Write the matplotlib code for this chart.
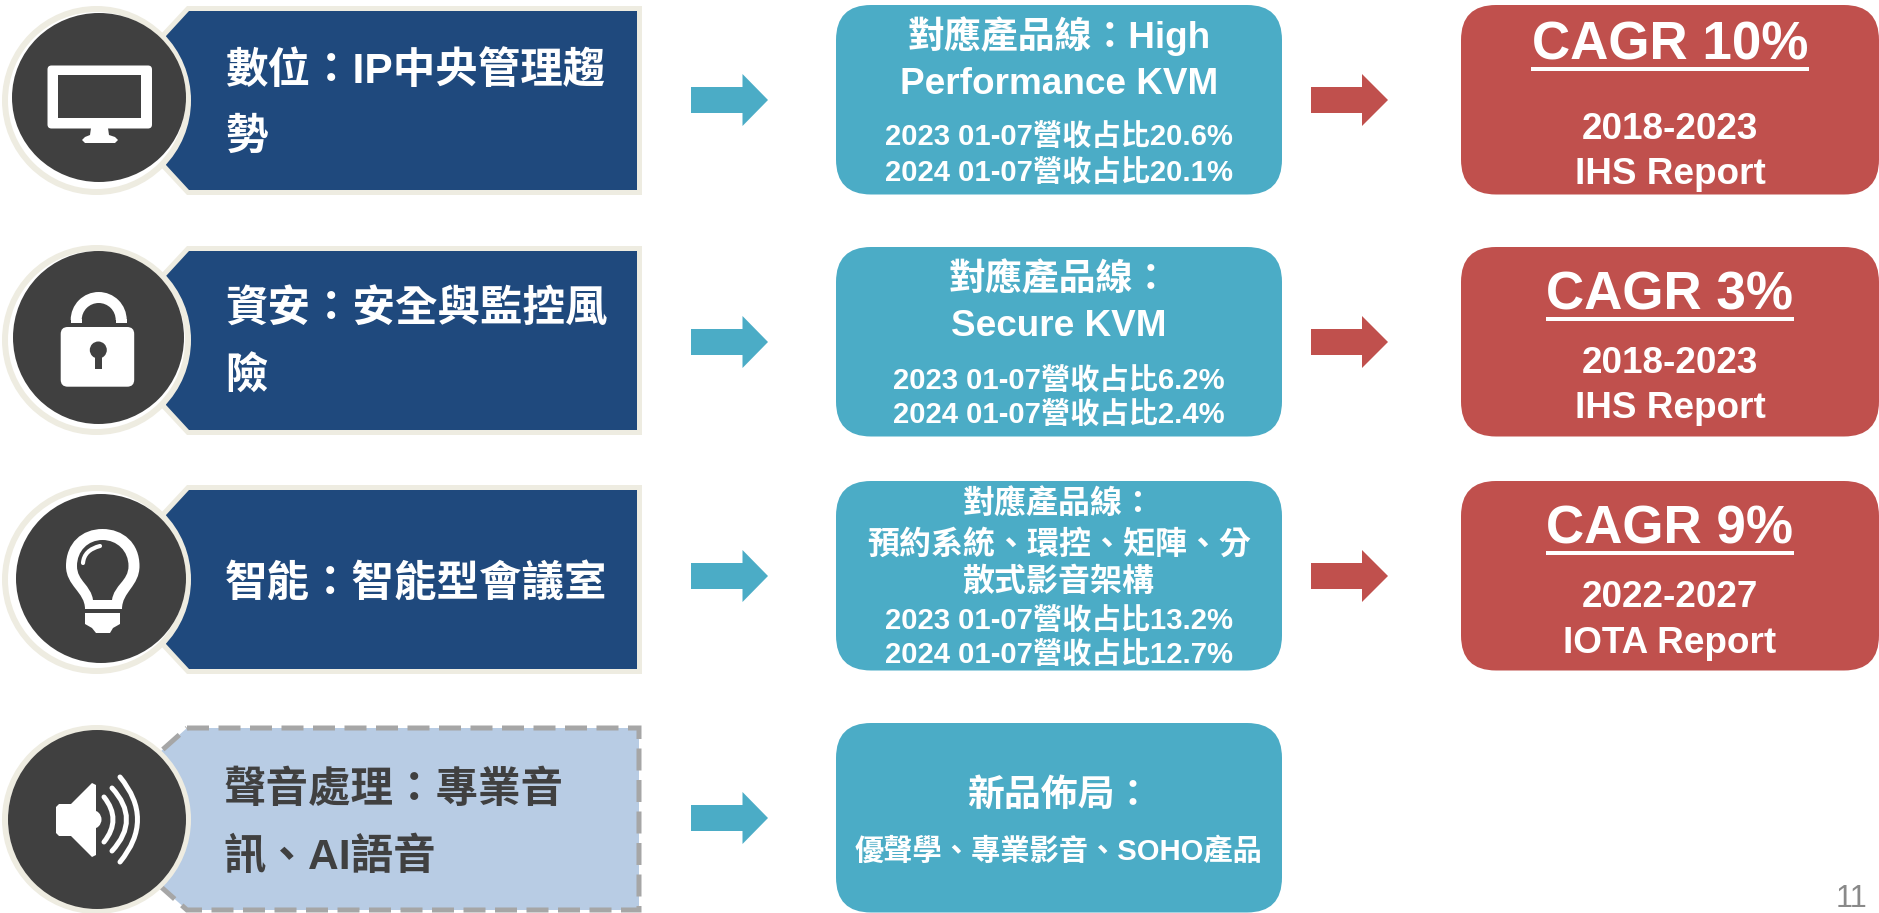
import matplotlib
matplotlib.use('Agg')
import matplotlib.pyplot as plt
from matplotlib.patches import Ellipse, FancyBboxPatch, Polygon, Rectangle, PathPatch, Wedge, Circle
from matplotlib.path import Path

# texts (\uff1a is the full width colon)
topics = [
    ['數位\uff1aIP中央管理趨', '勢'],
    ['資安\uff1a安全與監控風', '險'],
    ['智能\uff1a智能型會議室'],
    ['聲音處理\uff1a專業音', '訊、AI語音'],
]
product_lines = [
    ['對應產品線\uff1aHigh', 'Performance KVM'],
    ['對應產品線\uff1a', 'Secure KVM'],
    ['對應產品線\uff1a', '預約系統、環控、矩陣、分', '散式影音架構'],
    ['新品佈局\uff1a'],
]
share_lines = [
    ['2023 01-07營收占比20.6%', '2024 01-07營收占比20.1%'],
    ['2023 01-07營收占比6.2%', '2024 01-07營收占比2.4%'],
    ['2023 01-07營收占比13.2%', '2024 01-07營收占比12.7%'],
    ['優聲學、專業影音、SOHO產品'],
]
cagr_titles = ['CAGR 10%', 'CAGR 3%', 'CAGR 9%']
cagr_periods = ['2018-2023', '2018-2023', '2022-2027']
cagr_sources = ['IHS Report', 'IHS Report', 'IOTA Report']
page_number = '11'

# layout, in pixels of the slide
W, H = 1879, 913
row_top = [11, 251, 490, 732]
box_top = [5, 247, 481, 723]
arrow_mid = [100, 342, 576, 818]
topic_base = [[83, 149], [322, 389], [596], [802, 869]]
product_base = [[48, 94], [290, 336], [514, 554, 591], [806]]
product_size = [26.6, 26.6, 23, 26.6]
share_base = [[145, 181], [389, 423], [629, 663], [860]]
cagr_base = [60, 309, 544]
rule_y = [69, 319, 553]
period_base = [139, 373, 607]
source_base = [184, 418, 653]
dark_x = [(12, 186), (13, 184), (16, 186), (8, 186)]
dark_y = [(13, 182), (251, 424), (494, 663), (730, 909)]
ring_y = [(6, 195), (245, 435), (485, 674), (725, 914)]

NAVY = '#1F497D'
TEAL = '#4BACC6'
RED = '#C0504D'
CREAM = '#EEECE1'
DARK = '#404040'
LIGHT = '#B8CCE4'
FONT = ['Liberation Sans', 'Noto Sans CJK TC']

fig = plt.figure(figsize=(W / 100, H / 100), dpi=100)
ax = fig.add_axes([0, 0, 1, 1])
ax.set_xlim(0, W)
ax.set_ylim(H, 0)
ax.axis('off')


def label(x, y, s, size, color='white', ha='center', weight='bold'):
    ax.text(x, y, s, fontsize=size, color=color, ha=ha, va='baseline', family=FONT, weight=weight)


def tag_points(top, left, tl, right, height, cut):
    return [(tl, top), (right, top), (right, top + height), (tl, top + height),
            (left, top + height - cut), (left, top + cut)]


def block_arrow(mid, x0, x1, x2, color):
    ax.add_patch(Polygon([(x0, mid - 13), (x1, mid - 13), (x1, mid - 26), (x2, mid),
                          (x1, mid + 26), (x1, mid + 13), (x0, mid + 13)], fc=color, ec='none'))


def round_box(x0, x1, y0, color):
    ax.add_patch(FancyBboxPatch((x0, y0), x1 - x0, 189.5, boxstyle='round,pad=0,rounding_size=35',
                                fc=color, ec='none'))


def white_shape(verts, codes):
    ax.add_patch(PathPatch(Path(verts, codes), fc='white', ec='none', zorder=5))


def curved_line(p0, c, p1, lw):
    ax.add_patch(PathPatch(Path([p0, c, p1], [Path.MOVETO, Path.CURVE3, Path.CURVE3]), fc='none', ec='white',
                           lw=lw * 0.72, capstyle='round', zorder=5))


def monitor():
    ax.add_patch(FancyBboxPatch((47.5, 65.5), 104.5, 63, boxstyle='round,pad=0,rounding_size=4', fc='white', ec='none', zorder=5))
    ax.add_patch(Rectangle((58, 75), 83, 43, fc=DARK, ec='none', zorder=6))
    ax.add_patch(Polygon([(91, 128), (108, 128), (109, 135), (115, 137), (118, 140), (115, 143), (85, 143), (82, 140), (85, 137), (90, 135)],
                         fc='white', ec='none', zorder=5))


def lock():
    ax.add_patch(Wedge((98.7, 320), 28, 180, 360, width=11, fc='white', ec='none', zorder=5))
    ax.add_patch(Rectangle((70.7, 319.5), 11, 3.5, fc='white', ec='none', zorder=5))
    ax.add_patch(Rectangle((115.7, 319.5), 11, 3.5, fc='white', ec='none', zorder=5))
    ax.add_patch(FancyBboxPatch((60.7, 327), 73.5, 59.7, boxstyle='round,pad=0,rounding_size=7', fc='white', ec='none', zorder=5))
    ax.add_patch(Circle((98.3, 350), 8.5, fc=DARK, ec='none', zorder=6))
    ax.add_patch(Rectangle((95, 352), 6.7, 16.7, fc=DARK, ec='none', zorder=6))


def bulb():
    C4 = Path.CURVE4
    outer = [(85, 609), (85, 592), (66, 586), (66, 566), (66, 543), (82, 529), (102.5, 529),
             (123, 529), (139.5, 543), (139.5, 566), (139.5, 586), (122, 592), (122, 609), (85, 609)]
    codes = [Path.MOVETO, C4, C4, C4, C4, C4, C4, C4, C4, C4, C4, C4, C4, Path.CLOSEPOLY]
    white_shape(outer, codes)
    inner = [(93, 600), (91, 585), (77, 581), (77, 566), (77, 551), (88, 540), (102.5, 540),
             (117, 540), (128.5, 551), (128.5, 566), (128.5, 581), (114, 585), (112, 600), (93, 600)]
    ax.add_patch(PathPatch(Path(inner, codes), fc=DARK, ec='none', zorder=6))
    ax.add_patch(Polygon([(85, 613), (120, 613), (120, 624), (113, 628), (110, 633), (96, 633), (92, 628), (85, 624)],
                         fc='white', ec='none', joinstyle='round', zorder=5))
    ax.add_patch(PathPatch(Path([(83, 563), (84, 550), (100, 546)], [Path.MOVETO, Path.CURVE3, Path.CURVE3]), fc='none', ec='white',
                           lw=3, capstyle='round', zorder=7))


def speaker():
    ax.add_patch(Polygon([(59, 804), (71, 804), (92, 783), (96, 785), (96, 855), (92, 857), (71, 836), (59, 836), (56, 833), (56, 807)],
                         fc='white', ec='none', zorder=5))
    ax.add_patch(Circle((92, 819.5), 9.5, fc='white', ec='none', zorder=5))
    curved_line((104, 797), (122, 819.5), (104, 842), 5)
    curved_line((112, 788), (141, 819.5), (112, 851), 5)
    curved_line((120, 777), (155, 819.5), (120, 862), 5)


icons = [monitor, lock, bulb, speaker]

for i in range(4):
    top = row_top[i]
    # topic tag
    if i < 3:
        ax.add_patch(Polygon(tag_points(top - 5, 160, 187, 642, 189, 29), fc=CREAM, ec='none'))
        ax.add_patch(Polygon(tag_points(top, 166, 189, 637, 179, 25), fc=NAVY, ec='none'))
    else:
        ax.add_patch(Polygon(tag_points(728, 160, 187, 639, 182, 24), fc=LIGHT, ec='#A6A6A6', lw=3.6,
                             linestyle=(0, (4.4, 1.9)), capstyle='butt'))
    for s, y in zip(topics[i], topic_base[i]):
        if i < 3:
            label(225, y, s, 30.6, ha='left')
        else:
            label(223, y, s, 30.6, color=DARK, ha='left')

    # circle with icon: cream ring, white gap, dark disc
    ring_h = ring_y[i][1] - ring_y[i][0]
    ax.add_patch(Ellipse((96.5, sum(ring_y[i]) / 2), 189, ring_h, fc=CREAM, ec='none', zorder=3))
    ax.add_patch(Ellipse((96.5, sum(ring_y[i]) / 2), 177, ring_h - 12, fc='white', ec='none', zorder=3))
    ax.add_patch(Ellipse((sum(dark_x[i]) / 2, sum(dark_y[i]) / 2), dark_x[i][1] - dark_x[i][0], dark_y[i][1] - dark_y[i][0],
                         fc=DARK, ec='none', zorder=4))
    icons[i]()

    # product line box
    block_arrow(arrow_mid[i], 691, 742.5, 768, TEAL)
    round_box(836, 1282, box_top[i], TEAL)
    for s, y in zip(product_lines[i], product_base[i]):
        label(1059, y, s, product_size[i])
    for s, y in zip(share_lines[i], share_base[i]):
        label(1059, y, s, 21.1)

# CAGR boxes only for the first three rows
for i in range(3):
    block_arrow(arrow_mid[i], 1311, 1362, 1388, RED)
    round_box(1461, 1879, box_top[i], RED)
    label(1670, cagr_base[i], cagr_titles[i], 38.2)
    half = 139 if i == 0 else 124
    ax.add_patch(Rectangle((1670 - half, rule_y[i] - 1.75), 2 * half, 3.5, fc='white', ec='none'))
    label(1670, period_base[i], cagr_periods[i], 26.6)
    label(1670, source_base[i], cagr_sources[i], 26.6)

label(1867, 907, page_number, 22, color='#898989', ha='right', weight='normal')

fig.savefig('out.png', dpi=100, facecolor='white')
